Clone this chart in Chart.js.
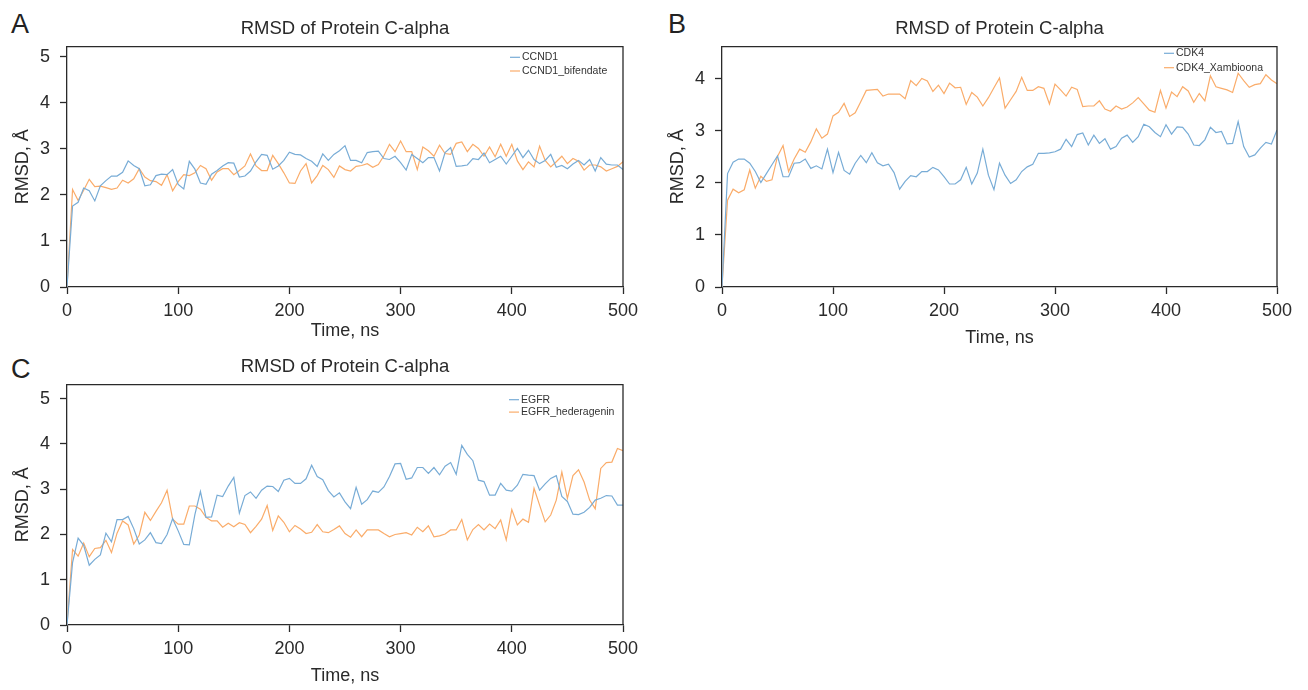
<!DOCTYPE html>
<html>
<head>
<meta charset="utf-8">
<script src="https://cdn.jsdelivr.net/npm/chart.js@4.4.1/dist/chart.umd.min.js"></script>
<style>
  html, body { margin: 0; padding: 0; background: #fff; }
  body { width: 1308px; height: 690px; position: relative; overflow: hidden; font-family: 'Liberation Sans', Arial, sans-serif; }
  canvas { position: absolute; }
  .tag { position: absolute; font-size: 27px; line-height: 27px; color: #222; }
</style>
</head>
<body>
<div class="tag" style="left:11px; top:11px;">A</div>
<div class="tag" style="left:668px; top:11px;">B</div>
<div class="tag" style="left:11px; top:356px;">C</div>
<canvas id="chartA" width="654" height="345" style="left:0; top:0;"></canvas>
<canvas id="chartB" width="653" height="352" style="left:655px; top:0;"></canvas>
<canvas id="chartC" width="654" height="352" style="left:0; top:338px;"></canvas>
<script>
// sampled every 5 ns over 0..500 ns
const TIME_NS = Array.from({ length: 101 }, (_, i) => i * 5);
const X_TICKS = [0, 100, 200, 300, 400, 500];
const Y_TICKS_AC = [0, 1, 2, 3, 4, 5];
const Y_TICKS_B = [0, 1, 2, 3, 4];

const PANEL_TITLE = 'RMSD of Protein C-alpha';
const X_TITLE = 'Time, ns';
const Y_TITLE = 'RMSD, Å';

const NAMES_A = ['CCND1', 'CCND1_bifendate'];
const NAMES_B = ['CDK4', 'CDK4_Xambioona'];
const NAMES_C = ['EGFR', 'EGFR_hederagenin'];

const CCND1 = [0, 1.76, 1.84, 2.15, 2.09, 1.87, 2.20, 2.31, 2.41, 2.41,
  2.49, 2.74, 2.64, 2.57, 2.20, 2.22, 2.42, 2.45, 2.44, 2.55,
  2.23, 2.13, 2.73, 2.56, 2.26, 2.23, 2.45, 2.53, 2.63, 2.70,
  2.69, 2.39, 2.41, 2.52, 2.72, 2.88, 2.86, 2.56, 2.63, 2.75,
  2.93, 2.88, 2.87, 2.79, 2.73, 2.62, 2.89, 2.75, 2.88, 2.96,
  3.07, 2.75, 2.75, 2.70, 2.92, 2.94, 2.95, 2.79, 2.77, 2.84,
  2.70, 2.54, 2.88, 2.79, 2.70, 2.81, 2.81, 2.52, 2.92, 3.03,
  2.62, 2.63, 2.65, 2.79, 2.77, 2.91, 2.70, 2.77, 2.84, 2.67,
  2.84, 3.01, 2.81, 2.97, 2.77, 2.68, 2.75, 2.88, 2.60, 2.64,
  2.57, 2.67, 2.75, 2.65, 2.77, 2.52, 2.81, 2.67, 2.65, 2.65,
  2.55];
const CCND1_BIFENDATE = [0, 2.12, 1.88, 2.10, 2.34, 2.18, 2.19, 2.16, 2.12, 2.15,
  2.32, 2.26, 2.35, 2.57, 2.39, 2.31, 2.29, 2.21, 2.44, 2.09,
  2.29, 2.44, 2.42, 2.48, 2.64, 2.57, 2.32, 2.50, 2.57, 2.57,
  2.44, 2.53, 2.63, 2.89, 2.63, 2.53, 2.53, 2.86, 2.68, 2.48,
  2.26, 2.25, 2.52, 2.68, 2.26, 2.42, 2.64, 2.55, 2.38, 2.63,
  2.55, 2.52, 2.62, 2.64, 2.68, 2.60, 2.66, 2.85, 3.10, 2.94,
  3.17, 2.94, 2.94, 2.55, 3.04, 2.96, 2.84, 3.08, 2.90, 2.88,
  3.12, 3.15, 2.94, 3.10, 3.01, 2.84, 3.04, 2.83, 3.10, 2.84,
  3.10, 2.74, 2.55, 2.72, 2.61, 3.06, 2.75, 2.61, 2.72, 2.84,
  2.68, 2.79, 2.73, 2.54, 2.65, 2.65, 2.61, 2.52, 2.57, 2.62,
  2.72];

const CDK4 = [0, 2.18, 2.40, 2.46, 2.46, 2.38, 2.22, 2.01, 2.18, 2.35,
  2.52, 2.12, 2.12, 2.38, 2.39, 2.46, 2.28, 2.33, 2.27, 2.65,
  2.20, 2.59, 2.24, 2.17, 2.38, 2.53, 2.39, 2.58, 2.39, 2.33,
  2.36, 2.20, 1.88, 2.03, 2.14, 2.12, 2.22, 2.22, 2.30, 2.25,
  2.12, 1.98, 1.98, 2.06, 2.30, 1.98, 2.19, 2.65, 2.15, 1.87,
  2.38, 2.15, 1.99, 2.06, 2.22, 2.31, 2.36, 2.57, 2.57, 2.58,
  2.60, 2.65, 2.84, 2.70, 2.93, 2.96, 2.73, 2.92, 2.76, 2.85,
  2.65, 2.70, 2.86, 2.92, 2.78, 2.89, 3.13, 3.08, 2.97, 2.89,
  3.12, 2.94, 3.08, 3.07, 2.94, 2.73, 2.72, 2.83, 3.07, 2.97,
  2.99, 2.75, 2.76, 3.18, 2.70, 2.50, 2.54, 2.67, 2.78, 2.75,
  3.02];
const CDK4_XAMBIOONA = [0, 1.67, 1.88, 1.81, 1.87, 2.25, 1.90, 2.13, 2.03, 2.06,
  2.51, 2.72, 2.22, 2.46, 2.65, 2.59, 2.79, 3.04, 2.86, 2.94,
  3.29, 3.36, 3.53, 3.28, 3.35, 3.56, 3.78, 3.79, 3.80, 3.67,
  3.71, 3.71, 3.71, 3.62, 3.97, 3.87, 4.01, 3.96, 3.76, 3.88,
  3.72, 3.92, 3.83, 3.84, 3.51, 3.74, 3.65, 3.48, 3.64, 3.83,
  4.02, 3.44, 3.60, 3.76, 4.03, 3.78, 3.78, 3.85, 3.82, 3.52,
  3.90, 3.79, 3.67, 3.84, 3.80, 3.47, 3.48, 3.48, 3.58, 3.42,
  3.38, 3.48, 3.42, 3.46, 3.54, 3.64, 3.52, 3.40, 3.36, 3.78,
  3.44, 3.75, 3.66, 3.85, 3.77, 3.55, 3.72, 3.58, 4.06, 3.85,
  3.82, 3.79, 3.74, 4.11, 3.97, 3.84, 3.89, 3.91, 4.08, 3.98,
  3.91];

const EGFR = [0, 1.38, 1.92, 1.76, 1.32, 1.45, 1.55, 2.03, 1.84, 2.33,
  2.33, 2.40, 2.13, 1.79, 1.88, 2.04, 1.82, 1.80, 2.00, 2.35,
  2.08, 1.78, 1.77, 2.44, 2.95, 2.38, 2.39, 2.87, 2.84, 3.07,
  3.26, 2.47, 2.86, 2.94, 2.80, 2.98, 3.07, 3.06, 2.95, 3.20,
  3.24, 3.13, 3.13, 3.23, 3.53, 3.28, 3.21, 2.97, 2.83, 2.92,
  2.72, 2.57, 3.04, 2.67, 2.77, 2.96, 2.93, 3.05, 3.28, 3.56,
  3.57, 3.22, 3.25, 3.48, 3.48, 3.35, 3.48, 3.32, 3.51, 3.59,
  3.33, 3.97, 3.77, 3.63, 3.20, 3.17, 2.87, 2.87, 3.13, 2.98,
  2.96, 3.09, 3.33, 3.31, 3.30, 2.98, 3.12, 3.24, 3.30, 2.84,
  2.73, 2.45, 2.44, 2.49, 2.60, 2.76, 2.80, 2.86, 2.85, 2.65,
  2.65];
const EGFR_HEDERAGENIN = [0, 1.67, 1.52, 1.81, 1.51, 1.69, 1.71, 1.87, 1.60, 2.03,
  2.30, 2.21, 1.79, 1.99, 2.49, 2.31, 2.51, 2.70, 2.98, 2.34,
  2.23, 2.23, 2.63, 2.63, 2.56, 2.38, 2.30, 2.30, 2.16, 2.25,
  2.17, 2.26, 2.22, 2.04, 2.18, 2.34, 2.64, 2.09, 2.41, 2.27,
  2.06, 2.20, 2.12, 2.02, 2.05, 2.22, 2.06, 2.04, 2.11, 2.19,
  2.02, 1.94, 2.10, 1.95, 2.10, 2.10, 2.10, 2.02, 1.95, 2.00,
  2.02, 2.04, 1.99, 2.16, 2.06, 2.19, 1.95, 1.97, 2.01, 2.10,
  2.10, 2.33, 1.88, 2.11, 2.22, 2.10, 2.23, 2.13, 2.32, 1.88,
  2.55, 2.21, 2.34, 2.27, 3.02, 2.65, 2.28, 2.43, 2.76, 3.38,
  2.80, 3.30, 3.43, 3.16, 2.76, 2.57, 3.46, 3.59, 3.60, 3.90,
  3.85];

const LINE_COLORS = ['rgb(120, 172, 214)', 'rgb(250, 172, 106)'];
const INK = '#2a2a2a';

Chart.defaults.font.family = "'Liberation Sans', Arial, sans-serif";
Chart.defaults.color = INK;

// top + right edges of the plot box (left/bottom come from the axis borders)
const boxFrame = {
  id: 'boxFrame',
  afterDraw(chart) {
    const { ctx, chartArea: { left, top, right, bottom } } = chart;
    ctx.save();
    ctx.strokeStyle = INK;
    ctx.lineWidth = 1.3;
    ctx.beginPath();
    ctx.moveTo(left, top);
    ctx.lineTo(right, top);
    ctx.lineTo(right, bottom);
    ctx.stroke();
    ctx.restore();
  }
};

// small legend tucked into the top-right corner of the plot
const insetLegend = {
  id: 'insetLegend',
  afterDatasetsDraw(chart, args, opts) {
    const { ctx, chartArea } = chart;
    ctx.save();
    ctx.font = "10.5px 'Liberation Sans', Arial, sans-serif";
    ctx.textBaseline = 'middle';
    chart.data.datasets.forEach((ds, i) => {
      const x = chartArea.right - opts.right;
      const y = chartArea.top + opts.top + i * opts.gap;
      ctx.strokeStyle = ds.borderColor;
      ctx.lineWidth = 1.2;
      ctx.beginPath();
      ctx.moveTo(x, y);
      ctx.lineTo(x + 10, y);
      ctx.stroke();
      ctx.fillStyle = '#333';
      ctx.fillText(ds.label, x + 12, y);
    });
    ctx.restore();
  }
};

function buildPanel(id, names, series, yMax, yTicks, xAxisH, legendAt) {
  const ctx = document.getElementById(id);
  return new Chart(ctx, {
    type: 'line',
    data: {
      datasets: series.map((vals, i) => ({
        label: names[i],
        data: TIME_NS.map((t, j) => ({ x: t, y: vals[j] })),
        borderColor: LINE_COLORS[i],
        borderWidth: 1.2,
        pointRadius: 0,
        tension: 0,
        fill: false
      }))
    },
    options: {
      responsive: false,
      animation: false,
      layout: { padding: { left: 0, right: 31, top: 0, bottom: 0 } },
      plugins: {
        legend: { display: false },
        tooltip: { enabled: false },
        title: {
          display: true, text: PANEL_TITLE, fullSize: false, color: INK,
          font: { size: 18.5, weight: 'normal' },
          padding: { top: 18, bottom: 6.5 }
        },
        insetLegend: legendAt
      },
      scales: {
        x: {
          type: 'linear', min: 0, max: 500,
          afterBuildTicks: s => { s.ticks = X_TICKS.map(v => ({ value: v })); },
          afterFit: s => { s.height = xAxisH; },
          grid: { drawOnChartArea: false, tickLength: 7, color: INK, tickWidth: 1.3 },
          border: { color: INK, width: 1.3 },
          ticks: { font: { size: 18 }, padding: 6, color: INK, maxRotation: 0 },
          title: { display: true, text: X_TITLE, font: { size: 18 }, padding: { top: 0, bottom: 3 }, color: INK }
        },
        y: {
          min: 0, max: yMax,
          afterBuildTicks: s => { s.ticks = yTicks.map(v => ({ value: v })); },
          afterFit: s => { s.width = 67; },
          grid: { drawOnChartArea: false, tickLength: 7, color: INK, tickWidth: 1.3 },
          border: { color: INK, width: 1.3 },
          ticks: { font: { size: 18 }, padding: 10, color: INK },
          title: { display: true, text: Y_TITLE, font: { size: 18 }, padding: { top: 12, bottom: 0 }, color: INK }
        }
      }
    },
    plugins: [boxFrame, insetLegend]
  });
}

buildPanel('chartA', NAMES_A, [CCND1, CCND1_BIFENDATE], 5.22, Y_TICKS_AC, 58,
  { right: 113, top: 10.6, gap: 13.7 });
buildPanel('chartB', NAMES_B, [CDK4, CDK4_XAMBIOONA], 4.62, Y_TICKS_B, 65,
  { right: 113, top: 6.6, gap: 14.4 });
buildPanel('chartC', NAMES_C, [EGFR, EGFR_HEDERAGENIN], 5.31, Y_TICKS_AC, 65,
  { right: 114, top: 15, gap: 12.4 });
</script>
</body>
</html>
